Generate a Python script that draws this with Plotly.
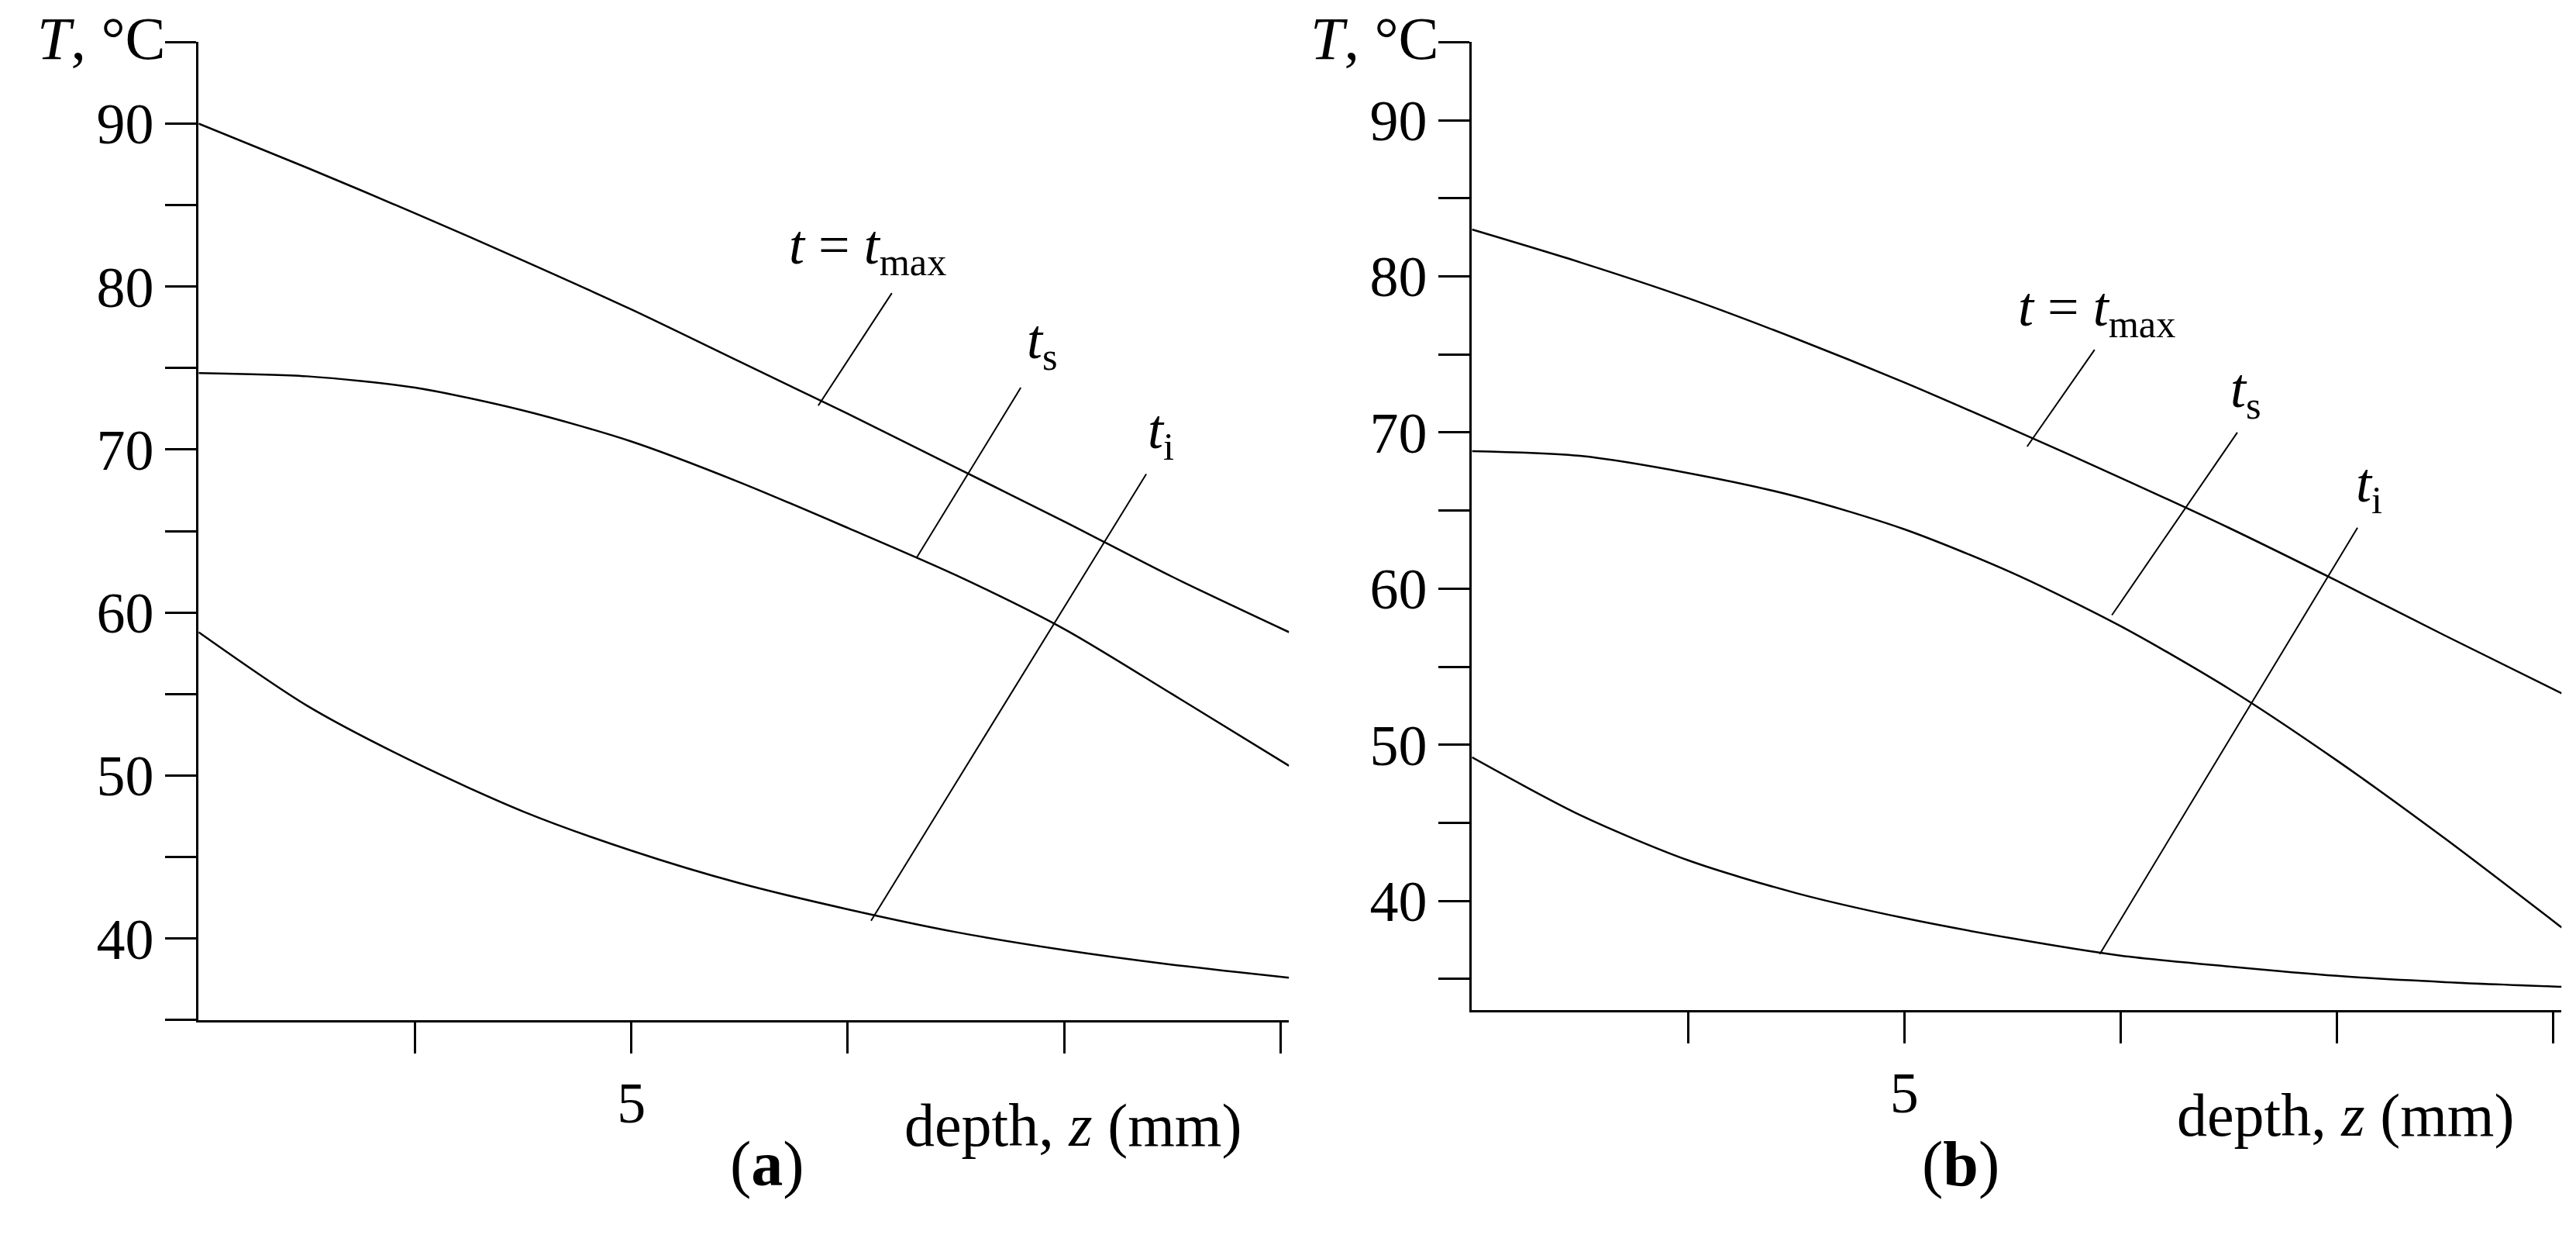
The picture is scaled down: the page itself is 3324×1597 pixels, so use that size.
import plotly.graph_objects as go

depth = [0, 1.25, 2.5, 3.75, 5, 6.25, 7.5, 8.75, 10, 11.25, 12.6]

# panel (a)
a_tmax = [90.0, 87.3, 84.5, 81.6, 78.6, 75.4, 72.2, 68.9, 65.6, 62.2, 58.8]
a_ts = [74.7, 74.5, 73.8, 72.4, 70.5, 68.0, 65.2, 62.3, 59.0, 55.0, 50.6]
a_ti = [58.8, 54.3, 50.8, 47.8, 45.4, 43.4, 41.8, 40.4, 39.3, 38.4, 37.6]

# panel (b)
b_tmax = [83.0, 80.9, 78.6, 76.0, 73.2, 70.2, 67.1, 63.9, 60.5, 57.0, 53.3]
b_ts = [68.8, 68.5, 67.4, 65.9, 63.8, 61.0, 57.6, 53.6, 49.0, 44.0, 38.3]
b_ti = [49.2, 45.5, 42.6, 40.5, 38.9, 37.6, 36.5, 35.8, 35.2, 34.8, 34.5]

# leader lines: (x0, y0, x1, y1) and label position
a_leaders = [(7.16, 72.7, 8.01, 79.6), (8.3, 63.4, 9.5, 73.8), (7.77, 41.1, 10.95, 68.5)]
a_labels = [(6.8, 82.3), (9.55, 76.5), (10.95, 71.0)]
b_leaders = [(6.42, 69.1, 7.2, 75.3), (7.4, 58.3, 8.85, 70.0), (7.26, 36.6, 10.24, 63.9)]
b_labels = [(6.3, 77.8), (8.75, 72.6), (10.2, 66.5)]
label_text = ["<i>t</i> = <i>t</i><sub>max</sub>", "<i>t</i><sub>s</sub>", "<i>t</i><sub>i</sub>"]

FONT = "Liberation Serif"
fig = go.Figure()

panels = [
    ("x", "y", [a_tmax, a_ts, a_ti], a_leaders, a_labels, [0.0747, 0.498], [0.181, 0.971], [35, 95], "(<b>a</b>)"),
    ("x2", "y2", [b_tmax, b_ts, b_ti], b_leaders, b_labels, [0.569, 0.992], [0.189, 0.971], [33, 95], "(<b>b</b>)"),
]

yvals = list(range(35, 100, 5))
ytext = [str(v) if v % 10 == 0 and v < 95 else "" for v in yvals]

for i, (xa, ya, series, leaders, labels, xdom, ydom, yr, tag) in enumerate(panels):
    for s in series:
        fig.add_trace(go.Scatter(x=depth, y=s, mode="lines", line=dict(color="black", width=2.5, shape="spline", smoothing=0.8),
                                 xaxis=xa, yaxis=ya, showlegend=False))
    for (x0, y0, x1, y1) in leaders:
        fig.add_shape(type="line", x0=x0, y0=y0, x1=x1, y1=y1, xref=xa, yref=ya, line=dict(color="black", width=2))
    for (lx, ly), txt in zip(labels, label_text):
        fig.add_annotation(x=lx, y=ly, xref=xa, yref=ya, text=txt, showarrow=False, xanchor="left",
                           font=dict(family=FONT, size=72, color="black"))
    ax = dict(domain=xdom, range=[0, 12.6], tickvals=[2.5, 5, 7.5, 10, 12.5], ticktext=["", "5", "", "", ""],
              ticks="outside", ticklen=40, tickwidth=2.5, tickcolor="black", showline=True, linecolor="black",
              linewidth=3, showgrid=False, zeroline=False, tickfont=dict(family=FONT, size=74, color="black"))
    ay = dict(domain=ydom, range=yr, tickvals=yvals, ticktext=ytext, ticks="outside", ticklen=40, tickwidth=2.5,
              tickcolor="black", showline=True, linecolor="black", linewidth=3, showgrid=False, zeroline=False,
              tickfont=dict(family=FONT, size=74, color="black"))
    if i == 0:
        ax["anchor"] = "y"
        ay["anchor"] = "x"
        fig.update_layout(xaxis=ax, yaxis=ay)
    else:
        ax["anchor"] = "y2"
        ay["anchor"] = "x2"
        fig.update_layout(xaxis2=ax, yaxis2=ay)
    # axis titles
    fig.add_annotation(x=xdom[0] - 0.012, y=ydom[1] + 0.003, xref="paper", yref="paper", text="<i>T</i>, °C",
                       showarrow=False, xanchor="right", yanchor="middle", font=dict(family=FONT, size=78, color="black"))
    fig.add_annotation(x=xdom[1] - 0.018, y=ydom[0] - 0.085, xref="paper", yref="paper",
                       text="depth, <i>z</i> (mm)", showarrow=False, xanchor="right", yanchor="middle",
                       font=dict(family=FONT, size=78, color="black"))
    fig.add_annotation(x=(xdom[0] + xdom[1]) / 2 - 0.006, y=0.035, xref="paper", yref="paper", text=tag,
                       showarrow=False, font=dict(family=FONT, size=82, color="black"))

fig.update_layout(width=3324, height=1597, margin=dict(l=0, r=0, t=0, b=0),
                  plot_bgcolor="white", paper_bgcolor="white")
fig.write_html("out.html")
